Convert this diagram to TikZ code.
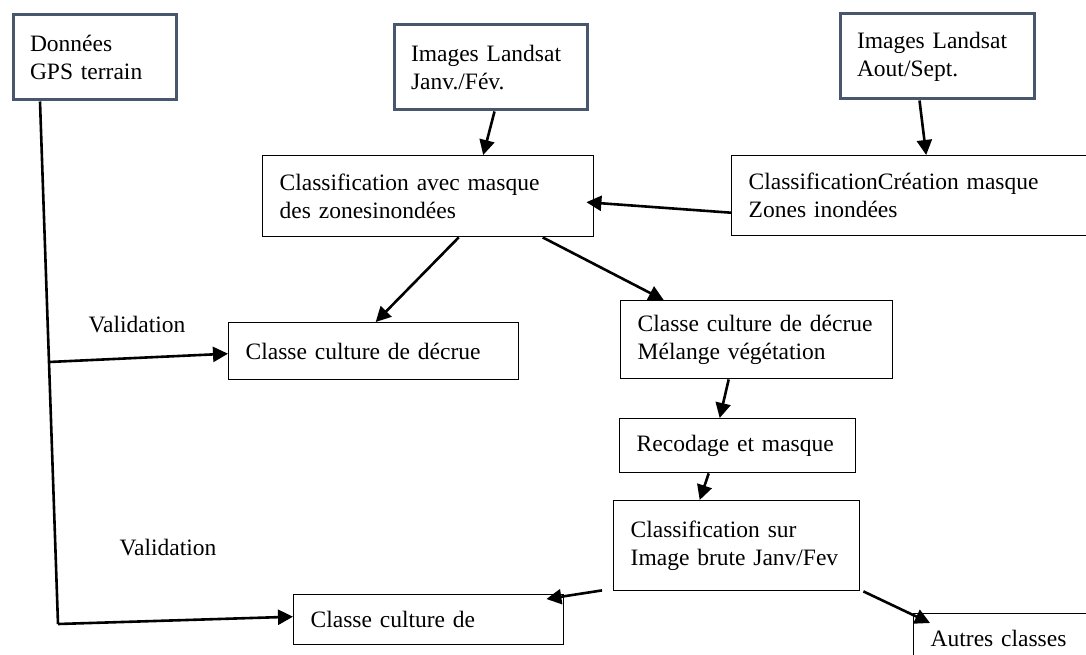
\documentclass[tikz,border=0pt]{standalone}
\usepackage{fontspec}
\setmainfont{Liberation Serif}
\usepackage{xcolor}
\usetikzlibrary{arrows.meta}
\usetikzlibrary{positioning}

\definecolor{slate}{RGB}{72,86,110}

\tikzset{
  box/.style={draw, line width=1.4pt, anchor=north west, align=left,
    inner xsep=17pt, inner ysep=0pt, font=\fontsize{23.5}{28}\selectfont},
  srcbox/.style={box, draw=slate, line width=3pt},
  arr/.style={-{Triangle[length=15pt,width=15pt]}, line width=2.6pt},
  conn/.style={line width=2.6pt},
  lbl/.style={font=\fontsize{23.5}{28}\selectfont},
}

\begin{document}
\begin{tikzpicture}[x=1pt,y=-1pt]
    \useasboundingbox (0,0) rectangle (1086,655);

    % SOURCES
    \node[srcbox, minimum width=163pt, minimum height=85pt, text width=129pt] (gps) at (11.5,13.5) {Données\\GPS terrain};
    \node[srcbox, minimum width=193pt, minimum height=85pt, text width=159pt] (janv) at (392.5,23.5) {Images Landsat\\Janv./Fév.};
    \node[srcbox, minimum width=194pt, minimum height=85pt, text width=160pt] (aout) at (838.5,12.5) {Images Landsat\\Aout/Sept.};

    % CLASSIFICATIONS
    \node[box, minimum width=331pt, minimum height=81pt, text width=297pt] (avec) at (262,155) {Classification avec masque\\des zonesinondées};
    \node[box, minimum width=369pt, minimum height=80pt, text width=335pt] (creat) at (731,155) {ClassificationCréation masque\\Zones inondées};
    \node[box, minimum width=290pt, minimum height=57pt, text width=256pt] (decrue) at (228,322) {Classe culture de décrue};
    \node[box, minimum width=272pt, minimum height=78pt, text width=238pt] (melange) at (620,300) {Classe culture de décrue\\Mélange végétation};
    \node[box, minimum width=236pt, minimum height=54pt, text width=202pt] (recod) at (619,418) {Recodage et masque};
    \node[box, minimum width=246pt, minimum height=90pt, text width=212pt] (brute) at (613,500) {Classification sur\\Image brute Janv/Fev\\[2pt]};
    \node[box, minimum width=270pt, minimum height=50pt, text width=236pt] (culture) at (293,594) {Classe culture de};
    \node[box, minimum width=200pt, minimum height=87pt, text width=166pt, text depth=38pt] (autres) at (913,613) {Autres classes};

    % VALIDATION
    \node[lbl] (val1) at (137,325) {Validation};
    \node[lbl] (val2) at (168,548) {Validation};
    \coordinate (gpsout) at ([xshift=28.5pt]gps.south west);
    \coordinate (fork1) at (49,362);
    \coordinate (fork2) at (58,624);
    \draw[conn] (gpsout) -- (fork1) -- (fork2);
    \draw[arr] (fork1) -- ([yshift=-2.5pt]decrue.west);
    \draw[arr] (fork2) -- ([yshift=3pt]culture.west);

    % ARROWS
    \draw[arr] ([xshift=4pt]janv.south) -- ([xshift=55pt]avec.north);
    \draw[arr] ([xshift=-17.5pt]aout.south) -- ([xshift=10pt]creat.north);
    \draw[arr] ([yshift=-17pt]creat.west) -- ([xshift=-8pt,yshift=-6pt]avec.east);
    \draw[arr] ([xshift=30.5pt]avec.south) -- ([xshift=2pt]decrue.north);
    \draw[arr] ([xshift=114.5pt]avec.south) -- ([xshift=-93pt]melange.north);
    \draw[arr] ([xshift=-28pt]melange.south) -- ([xshift=-18pt]recod.north);
    \draw[arr] ([xshift=-29pt]recod.south) -- ([xshift=-37pt]brute.north);
    \draw[arr] ([xshift=-11pt,yshift=1pt]brute.south west) -- ([xshift=-18pt,yshift=-5pt]culture.north east);
    \draw[arr] ([xshift=3pt]brute.south east) -- ([xshift=17pt,yshift=-10pt]autres.north west);
  \end{tikzpicture}
\end{document}
